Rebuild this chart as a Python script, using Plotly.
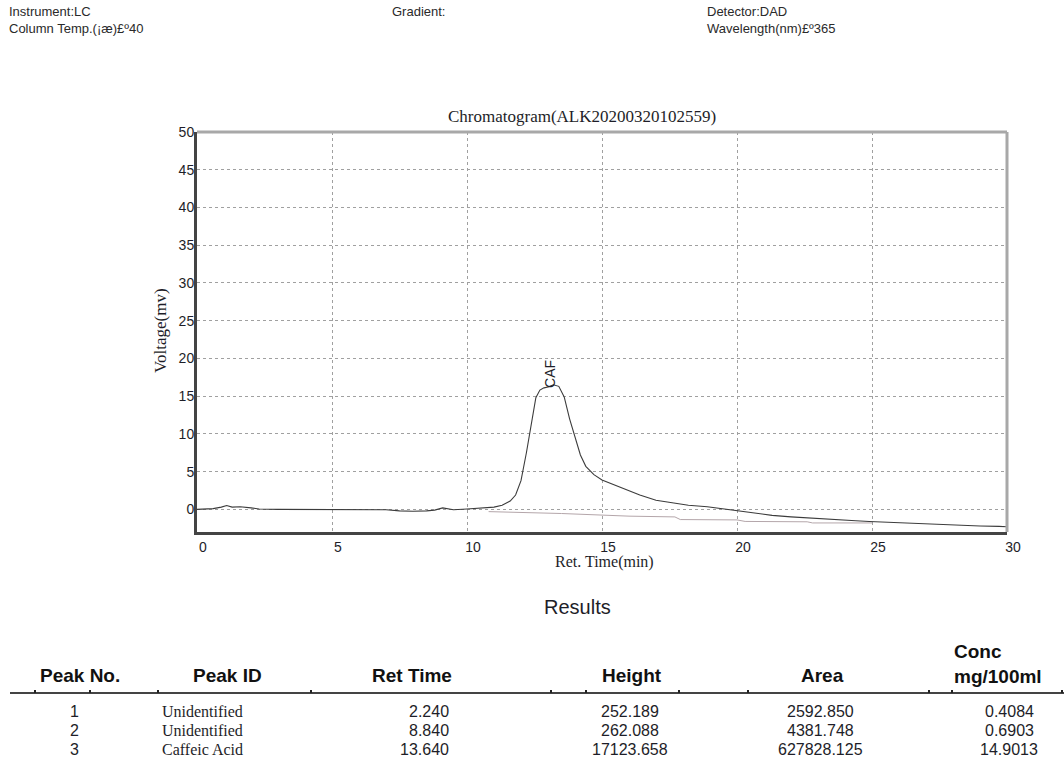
import plotly.graph_objects as go

# ---- chromatogram signal ----
ret_time = [0, 0.3, 0.6, 0.9, 1.1, 1.3, 1.6, 2.0, 2.3, 3, 4, 5, 6, 7, 7.5, 8, 8.5, 8.8, 9.1, 9.5,
            10, 10.5, 11.0, 11.3, 11.6, 11.8, 12.0, 12.2, 12.4, 12.55, 12.7, 12.85, 13.0, 13.2,
            13.4, 13.6, 13.8, 14.0, 14.2, 14.4, 14.7, 15.0, 15.4, 15.8, 16.4, 17.0, 17.6, 18.2,
            18.9, 19.5, 20.0, 20.6, 21.3, 22.0, 22.6, 23.2, 23.8, 24.4, 24.9, 25.5, 26.3, 27.2,
            28.1, 29.0, 29.7, 30]
voltage = [0, 0.05, 0.1, 0.3, 0.5, 0.3, 0.35, 0.2, 0.05, 0, 0, 0, 0, -0.05, -0.2, -0.25, -0.2,
           -0.1, 0.2, -0.05, 0.05, 0.15, 0.3, 0.55, 1.1, 1.9, 3.8, 7.5, 11.8, 14.8, 15.8, 16.1,
           16.2, 16.5, 16.3, 14.9, 12.0, 9.5, 7.2, 5.7, 4.6, 3.9, 3.3, 2.7, 1.9, 1.2, 0.9, 0.55,
           0.35, 0.05, -0.2, -0.45, -0.8, -1.0, -1.15, -1.3, -1.45, -1.5, -1.6, -1.7, -1.8,
           -1.95, -2.1, -2.2, -2.25, -2.3]

# integration baseline
base_time = [10.8, 13.5, 16.0, 17.7, 17.9, 20.0, 20.3, 22.6, 22.8, 25.0]
base_volt = [-0.3, -0.55, -0.9, -1.0, -1.35, -1.4, -1.6, -1.65, -1.8, -1.8]

peak_label = "CAF"
peak_label_time = 13.1
peak_label_volt = 17.9

x_ticks = [0, 5, 10, 15, 20, 25, 30]
y_ticks = [0, 5, 10, 15, 20, 25, 30, 35, 40, 45, 50]

# ---- results table ----
col_headers = ["Peak No.", "Peak ID", "Ret Time", "Height", "Area", "Conc<br>mg/100ml"]
peak_no = ["1", "2", "3"]
peak_id = ["Unidentified", "Unidentified", "Caffeic Acid"]
ret_times = ["2.240", "8.840", "13.640"]
heights = ["252.189", "262.088", "17123.658"]
areas = ["2592.850", "4381.748", "627828.125"]
concs = ["0.4084", "0.6903", "14.9013"]

header_left = ["Instrument:LC", "Column Temp.(¡æ)£º40"]
header_mid = ["Gradient:"]
header_right = ["Detector:DAD", "Wavelength(nm)£º365"]

W, H = 1064, 773
L, R, T, B = 197, 1007, 132, 532


def px(xp):
    return (xp - L) / (R - L)


def py(yp):
    return (B - yp) / (B - T)


TXT = "#1e1e28"
fig = go.Figure()
fig.add_trace(go.Scatter(x=base_time, y=base_volt, mode="lines",
                         line=dict(color="#b4a6aa", width=1), hoverinfo="skip", showlegend=False))
fig.add_trace(go.Scatter(x=ret_time, y=voltage, mode="lines",
                         line=dict(color="#3c3c3c", width=1.1), showlegend=False))

ann = []


def add_text(xp, yp, text, font, xanchor="center", angle=0, align="center"):
    ann.append(dict(x=px(xp), y=py(yp), xref="paper", yref="paper", text=text,
                    showarrow=False, xanchor=xanchor, yanchor="middle", textangle=angle,
                    align=align, font=font))


ann.append(dict(x=peak_label_time, y=peak_label_volt, xref="x", yref="y", text=peak_label,
                showarrow=False, textangle=-90, xanchor="center", yanchor="middle",
                font=dict(family="Liberation Sans, Arial", size=14, color=TXT)))
serif = "Liberation Serif, Times New Roman"
sans = "Liberation Sans, Arial"
add_text(582, 117, "Chromatogram(ALK20200320102559)", dict(family=serif, size=17, color=TXT))
add_text(604, 562, "Ret. Time(min)", dict(family=serif, size=16, color=TXT))
add_text(160, 331, "Voltage(mv)", dict(family=serif, size=17, color=TXT), angle=-90)

# header
hfont = dict(family=sans, size=13, color="#2a2a2a")
for i, t in enumerate(header_left):
    add_text(7, 12 + 16 * i, t, hfont, xanchor="left")
for i, t in enumerate(header_mid):
    add_text(390, 12 + 16 * i, t, hfont, xanchor="left")
for i, t in enumerate(header_right):
    add_text(705, 12 + 16 * i, t, hfont, xanchor="left")

# results table
add_text(577, 607, "Results", dict(family=sans, size=20, color=TXT))
head_font = dict(family=sans, size=19, color="#111111")
head_x = [80, 227, 412, 632, 822, 1001]
for i, h in enumerate(col_headers):
    if "<br>" in h:
        add_text(952, 664, "<b>" + h.replace("<br>", "</b><br><b>") + "</b>", head_font,
                 xanchor="left", align="left")
    else:
        add_text(head_x[i], 675, "<b>" + h + "</b>", head_font)

num_font = dict(family=sans, size=16, color=TXT)
ser_font = dict(family=serif, size=16, color=TXT)
row_y = [711, 730, 749]
for r in range(3):
    y = row_y[r]
    add_text(75, y, peak_no[r], num_font)
    add_text(160, y, peak_id[r], ser_font, xanchor="left")
    add_text(451, y, ret_times[r], num_font, xanchor="right")
    add_text(630, y, heights[r], num_font)
    add_text(820, y, areas[r], num_font)
    add_text(1009, y, concs[r], num_font)

shapes = [
    # gray top and right frame
    dict(type="line", xref="x domain", yref="y domain", x0=0, x1=1, y0=1, y1=1,
         line=dict(color="#a8a8a8", width=3)),
    dict(type="line", xref="x domain", yref="y domain", x0=1, x1=1, y0=0, y1=1,
         line=dict(color="#a8a8a8", width=3)),
    # table rule
    dict(type="line", xref="paper", yref="paper", x0=px(10), x1=px(1064), y0=py(693), y1=py(693),
         line=dict(color="#444444", width=2)),
]
for tx in [35, 90, 158, 311, 551, 586, 679, 748, 929, 952, 1062]:
    shapes.append(dict(type="line", xref="paper", yref="paper", x0=px(tx), x1=px(tx),
                       y0=py(693), y1=py(690), line=dict(color="#222222", width=2)))

fig.update_layout(
    width=W, height=H,
    margin=dict(l=L, r=W - R, t=T, b=H - B, pad=0),
    paper_bgcolor="white", plot_bgcolor="white",
    annotations=ann, shapes=shapes,
    xaxis=dict(range=[0, 30], tickvals=x_ticks, ticktext=[str(v) for v in x_ticks],
               showgrid=True, gridcolor="#a0a0a0", griddash="dot", gridwidth=1,
               zeroline=False, showline=True, linecolor="#444444", linewidth=3,
               ticks="", ticklabelshift=6, ticklabelstandoff=0,
               tickfont=dict(family=sans, size=14, color=TXT)),
    yaxis=dict(range=[-3, 50], tickvals=y_ticks, ticktext=[str(v) for v in y_ticks],
               showgrid=True, gridcolor="#a0a0a0", griddash="dot", gridwidth=1,
               zeroline=False, showline=True, linecolor="#444444", linewidth=3,
               ticks="", ticklabelstandoff=-3,
               tickfont=dict(family=sans, size=14, color=TXT)),
)

fig.write_html("out.html", config={"displayModeBar": False},
               post_script="document.body.style.margin='0';")
